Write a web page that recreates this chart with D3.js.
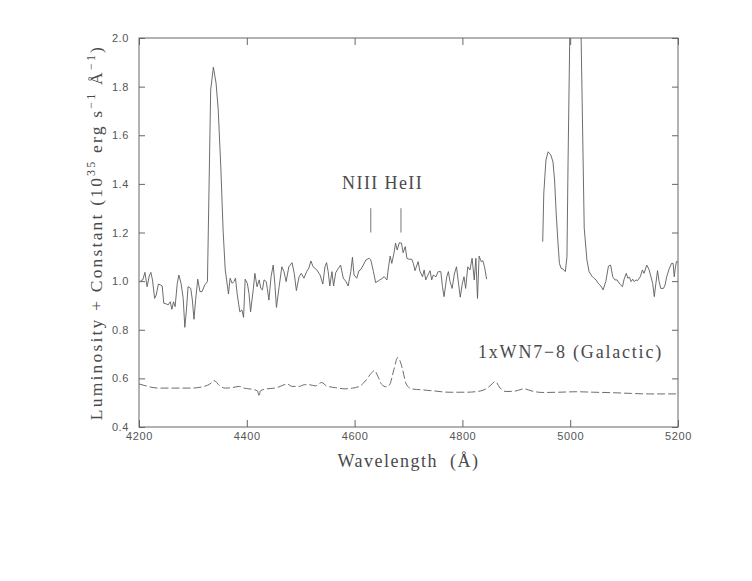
<!DOCTYPE html>
<html>
<head>
<meta charset="utf-8">
<script src="https://cdn.jsdelivr.net/npm/d3@7"></script>
<style>
  body { margin: 0; background: #fff; }
  .tick text { font-family: "Liberation Sans", sans-serif; font-size: 11px; fill: #555; }
  .tick line { stroke: #666; }
  .label { font-family: "Liberation Serif", serif; fill: #4a4a4a; }
</style>
</head>
<body>
<div id="chart"></div>
<script>
// observed spectrum, blue side [wavelength (A), luminosity + const]
var obsBlue = [[4203,1.002],[4207,1.005],[4211,1.036],[4215,0.977],[4219,1.021],[4222,1.036],[4225,1.005],[4229,0.929],[4232,0.943],[4236,0.988],[4240,0.984],[4243,0.980],[4246,0.909],[4251,0.906],[4254,0.902],[4258,0.915],[4261,0.884],[4264,0.915],[4267,0.895],[4271,0.991],[4274,1.025],[4278,0.991],[4282,0.929],[4285,0.810],[4288,0.881],[4291,0.977],[4296,0.970],[4299,0.922],[4302,0.843],[4305,0.922],[4309,1.008],[4313,0.957],[4317,0.957],[4322,0.984],[4327,0.998],[4333,1.786],[4338,1.880],[4343,1.814],[4347,1.704],[4352,1.457],[4356,1.210],[4360,1.046],[4366,0.947],[4369,1.012],[4373,0.991],[4376,0.998],[4379,1.012],[4382,0.950],[4387,0.874],[4391,0.881],[4394,0.851],[4397,1.008],[4401,0.991],[4404,0.950],[4407,0.874],[4412,0.966],[4415,1.032],[4419,0.977],[4423,1.005],[4426,0.970],[4429,0.964],[4432,1.005],[4436,0.998],[4438,0.970],[4441,0.922],[4445,1.018],[4449,1.066],[4452,0.991],[4455,0.892],[4460,0.977],[4465,1.059],[4469,1.039],[4473,0.998],[4478,1.059],[4484,1.076],[4488,1.032],[4492,0.961],[4497,1.018],[4501,1.032],[4506,1.012],[4511,1.039],[4515,1.053],[4519,1.083],[4523,1.059],[4530,1.046],[4536,1.025],[4541,0.988],[4545,1.059],[4548,1.076],[4551,1.039],[4554,0.980],[4558,1.039],[4561,0.980],[4565,1.035],[4570,1.053],[4574,1.066],[4579,1.012],[4584,0.998],[4588,0.980],[4593,1.039],[4596,1.098],[4599,1.025],[4604,1.012],[4608,1.042],[4612,1.049],[4616,1.066],[4621,1.087],[4627,1.094],[4630,1.087],[4635,1.039],[4639,0.994],[4644,1.001],[4649,1.008],[4655,1.018],[4660,1.005],[4663,1.059],[4666,1.103],[4669,1.073],[4673,1.114],[4676,1.156],[4679,1.128],[4683,1.158],[4687,1.156],[4690,1.117],[4694,1.142],[4697,1.094],[4701,1.090],[4706,1.090],[4709,1.073],[4712,1.043],[4715,1.062],[4718,1.080],[4721,1.042],[4726,1.018],[4729,1.046],[4732,1.005],[4736,1.025],[4740,1.043],[4743,1.005],[4746,1.025],[4751,1.018],[4755,1.039],[4760,1.039],[4763,0.977],[4766,0.936],[4771,1.018],[4774,1.039],[4777,0.998],[4781,0.970],[4785,1.029],[4789,1.059],[4792,1.005],[4796,0.934],[4800,0.991],[4803,1.018],[4806,0.970],[4810,1.059],[4814,1.046],[4818,1.094],[4822,1.005],[4825,1.094],[4828,0.929],[4831,1.103],[4835,1.080],[4838,1.084],[4841,1.059],[4845,1.008]];

// observed spectrum, red side ([OIII] peak runs off the top)
var obsRed = [[4949,1.162],[4951,1.361],[4955,1.498],[4959,1.532],[4964,1.519],[4968,1.491],[4971,1.416],[4974,1.279],[4977,1.169],[4980,1.073],[4983,1.053],[4987,1.049],[4991,1.039],[4994,1.100],[4996,1.485],[5001,2.30],[5005,3.20],[5009,3.50],[5014,3.10],[5018,2.30],[5022,1.766],[5026,1.219],[5031,1.087],[5035,1.039],[5040,1.021],[5044,1.012],[5048,1.005],[5052,0.991],[5057,0.980],[5061,0.964],[5066,0.998],[5071,1.062],[5075,1.066],[5079,1.018],[5083,1.005],[5087,1.005],[5092,0.988],[5097,0.977],[5100,1.008],[5104,1.032],[5107,1.012],[5110,1.016],[5113,0.998],[5116,1.008],[5119,0.998],[5122,1.005],[5125,1.002],[5130,1.018],[5134,1.046],[5137,1.032],[5142,1.066],[5146,1.049],[5149,1.025],[5153,0.991],[5156,0.936],[5159,0.991],[5162,1.043],[5165,0.998],[5168,0.970],[5173,0.970],[5176,0.984],[5179,1.018],[5184,1.053],[5188,1.073],[5191,1.073],[5193,1.018],[5195,1.053],[5197,1.080],[5200,1.078]];

// template: 1 x WN7-8 (Galactic)
var galactic = [[4200,0.577],[4213,0.569],[4226,0.562],[4239,0.560],[4263,0.560],[4296,0.560],[4321,0.567],[4334,0.581],[4339,0.591],[4350,0.569],[4360,0.560],[4373,0.562],[4386,0.567],[4395,0.560],[4404,0.557],[4414,0.553],[4420,0.548],[4423,0.525],[4425,0.548],[4437,0.557],[4452,0.560],[4462,0.567],[4475,0.577],[4484,0.567],[4497,0.567],[4507,0.574],[4516,0.574],[4527,0.569],[4539,0.583],[4548,0.569],[4564,0.562],[4583,0.557],[4596,0.560],[4609,0.567],[4622,0.595],[4629,0.616],[4637,0.632],[4643,0.609],[4650,0.576],[4659,0.565],[4665,0.574],[4673,0.637],[4680,0.686],[4684,0.673],[4689,0.637],[4695,0.581],[4705,0.557],[4724,0.553],[4749,0.548],[4775,0.543],[4807,0.543],[4833,0.548],[4846,0.560],[4853,0.573],[4861,0.587],[4870,0.560],[4881,0.546],[4896,0.547],[4914,0.557],[4929,0.548],[4948,0.542],[4979,0.543],[5011,0.545],[5044,0.543],[5081,0.541],[5114,0.538],[5145,0.536],[5178,0.536],[5200,0.536]];

// line ids
var lineWaves = [4630, 4686];
var lineNames = "NIII HeII";

var xTicks = [4200, 4400, 4600, 4800, 5000, 5200];
var yTicks = [0.4, 0.6, 0.8, 1.0, 1.2, 1.4, 1.6, 1.8, 2.0];

var margin = {top: 38, right: 74, bottom: 154, left: 139},
    width = 752 - margin.left - margin.right,
    height = 581 - margin.top - margin.bottom;

var svg = d3.select("#chart")
  .append("svg")
    .attr("width", 752)
    .attr("height", 581)
  .append("g")
    .attr("transform", `translate(${margin.left}, ${margin.top})`);

var x = d3.scaleLinear().domain([4200, 5200]).range([0, width]);
var y = d3.scaleLinear().domain([0.4, 2.0]).range([height, 0]);

svg.append("clipPath").attr("id", "plotclip")
  .append("rect").attr("width", width).attr("height", height);

// axes, ticks on all four sides pointing in
svg.append("g")
  .attr("transform", "translate(0," + height + ")")
  .call(d3.axisBottom(x).tickValues(xTicks).tickSizeInner(-7).tickSizeOuter(0).tickPadding(5).tickFormat(d3.format("d")));
svg.append("g")
  .call(d3.axisTop(x).tickValues(xTicks).tickSizeInner(-7).tickSizeOuter(0).tickFormat(""));
svg.append("g")
  .call(d3.axisLeft(y).tickValues(yTicks).tickSizeInner(-6).tickSizeOuter(0).tickPadding(10).tickFormat(d3.format(".1f")));
svg.append("g")
  .attr("transform", "translate(" + width + ",0)")
  .call(d3.axisRight(y).tickValues(yTicks).tickSizeInner(-6).tickSizeOuter(0).tickFormat(""));
svg.selectAll(".domain").remove();
svg.selectAll(".tick text").style("letter-spacing", "0.6px");

svg.append("rect")
  .attr("width", width).attr("height", height)
  .attr("fill", "none").attr("stroke", "#666").attr("stroke-width", 1);

// spectra
var line = d3.line().x(d => x(d[0])).y(d => y(d[1]));
var plot = svg.append("g").attr("clip-path", "url(#plotclip)");

[obsBlue, obsRed].forEach(function(seg) {
  plot.append("path")
    .datum(seg)
    .attr("d", line)
    .attr("fill", "none")
    .attr("stroke", "#5c5c5c")
    .attr("stroke-width", 0.9);
});

plot.append("path")
  .datum(galactic)
  .attr("d", line.curve(d3.curveMonotoneX))
  .attr("fill", "none")
  .attr("stroke", "#5c5c5c")
  .attr("stroke-width", 0.9)
  .attr("stroke-dasharray", "8,3");

// line identifications
svg.selectAll(".idmark")
  .data(lineWaves)
  .enter()
  .append("line")
    .attr("x1", d => x(d)).attr("x2", d => x(d))
    .attr("y1", y(1.30)).attr("y2", y(1.20))
    .attr("stroke", "#777");

svg.append("text")
  .attr("class", "label")
  .attr("x", x(4652))
  .attr("y", y(1.378))
  .attr("text-anchor", "middle")
  .style("font-size", "18px")
  .style("letter-spacing", "1.4px")
  .text(lineNames);

svg.append("text")
  .attr("class", "label")
  .attr("x", x(4829))
  .attr("y", y(0.684))
  .style("font-size", "18px")
  .style("letter-spacing", "1.8px")
  .text("1xWN7\u22128 (Galactic)");

// axis titles
svg.append("text")
  .attr("class", "label")
  .attr("x", width / 2)
  .attr("y", height + 40)
  .attr("text-anchor", "middle")
  .style("font-size", "18px")
  .style("letter-spacing", "1.5px")
  .style("white-space", "pre")
  .text("Wavelength  (\u00c5)");

var ylab = svg.append("text")
  .attr("class", "label")
  .attr("transform", "rotate(-90)")
  .attr("x", -height / 2)
  .attr("y", -37)
  .attr("text-anchor", "middle")
  .style("font-size", "17.5px")
  .style("letter-spacing", "2.2px");
ylab.append("tspan").text("Luminosity + Constant (10");
ylab.append("tspan").attr("dy", -7).style("font-size", "12px").text("35");
ylab.append("tspan").attr("dy", 7).text(" erg s");
ylab.append("tspan").attr("dy", -7).style("font-size", "12px").text("\u22121");
ylab.append("tspan").attr("dy", 7).text(" \u00c5");
ylab.append("tspan").attr("dy", -7).style("font-size", "12px").text("\u22121");
ylab.append("tspan").attr("dy", 7).text(")");
</script>
</body>
</html>
